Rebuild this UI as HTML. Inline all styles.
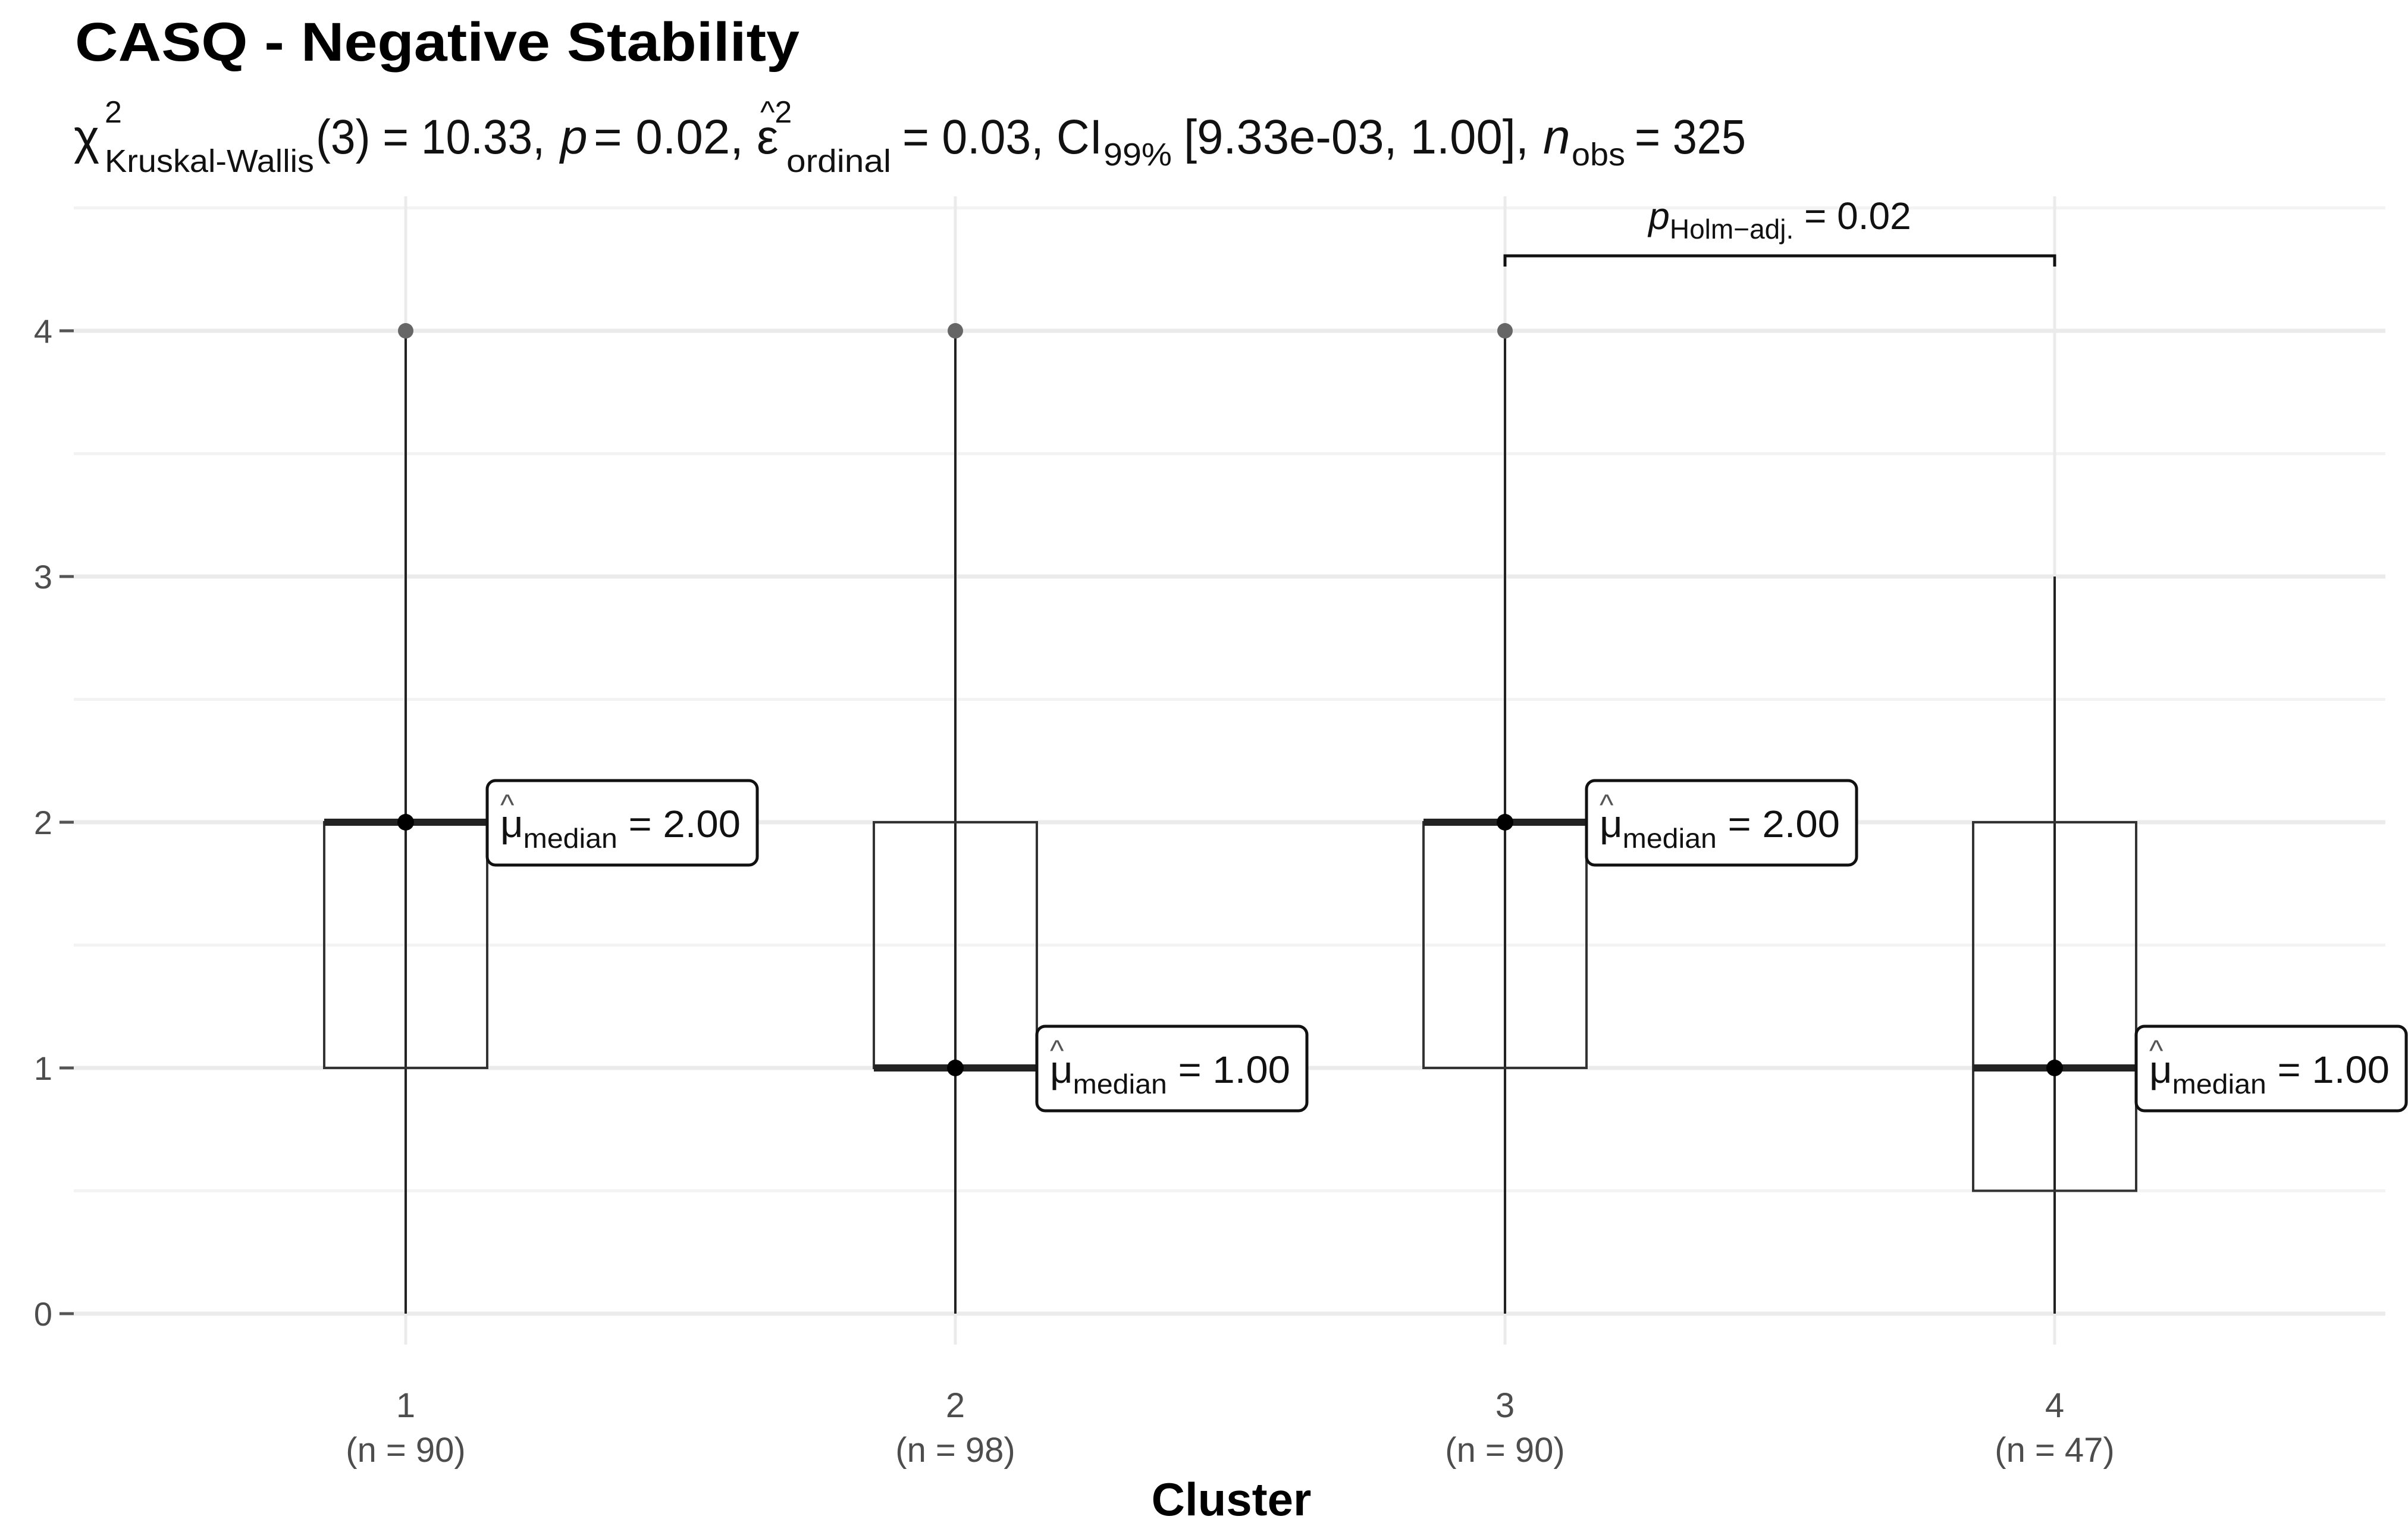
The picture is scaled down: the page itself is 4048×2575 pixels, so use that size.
<!DOCTYPE html>
<html><head><meta charset="utf-8"><style>
html,body{margin:0;padding:0;background:#fff}
svg{display:block;font-family:"Liberation Sans",Arial,sans-serif}
</style></head><body>
<svg id="chart" width="4048" height="2575" viewBox="0 0 4048 2575" xmlns="http://www.w3.org/2000/svg">
<rect width="4048" height="2575" fill="#fff"/>
<text x="126" y="102" font-size="92" font-weight="bold" textLength="1218" lengthAdjust="spacingAndGlyphs">CASQ - Negative Stability</text>
<g fill="#111" font-size="82">
<text x="124" y="258">χ</text>
<text x="176" y="206" font-size="52">2</text>
<text x="176" y="289" font-size="54" textLength="352" lengthAdjust="spacingAndGlyphs">Kruskal-Wallis</text>
<text x="531" y="258" textLength="385" lengthAdjust="spacingAndGlyphs">(3) = 10.33,</text>
<text x="942" y="258" font-style="italic">p</text>
<text x="998" y="258" textLength="252" lengthAdjust="spacingAndGlyphs">= 0.02,</text>
<text x="1272" y="258">ε</text>
<text x="1278" y="206" font-size="52">^2</text>
<text x="1322" y="289" font-size="54" textLength="176" lengthAdjust="spacingAndGlyphs">ordinal</text>
<text x="1517" y="258" textLength="336" lengthAdjust="spacingAndGlyphs">= 0.03, CI</text>
<text x="1855" y="278" font-size="54" textLength="115" lengthAdjust="spacingAndGlyphs">99%</text>
<text x="1990" y="258" textLength="580" lengthAdjust="spacingAndGlyphs">[9.33e-03, 1.00],</text>
<text x="2594" y="258" font-style="italic">n</text>
<text x="2642" y="278" font-size="54" textLength="90" lengthAdjust="spacingAndGlyphs">obs</text>
<text x="2748" y="258" textLength="187" lengthAdjust="spacingAndGlyphs">= 325</text>
</g>
<g id="grid"></g>
<g id="marks"></g>
<g id="axes"></g>
</svg>
<script>
const categories = ["1","2","3","4"];
const counts = [90,98,90,47];
const q1 = [1,1,1,0.5];
const medians = [2,1,2,1];
const q3 = [2,2,2,2];
const whiskerLow = [0,0,0,0];
const whiskerHigh = [4,4,4,3];
const outliers = [[4],[4],[4],[]];
const yTicks = [0,1,2,3,4];
const pairPValue = "0.02";
const pairGroups = [2,3];

const NS="http://www.w3.org/2000/svg";
const plotL=124, plotR=4010, plotT=330, plotB=2260;
const xPos = i => 682 + i*924;
const yPos = v => 2208 - v*413;
const halfW = 137;
function mk(tag, attrs, parent){const e=document.createElementNS(NS,tag);for(const k in attrs)e.setAttribute(k,attrs[k]);parent.appendChild(e);return e;}
const grid=document.getElementById('grid'), marks=document.getElementById('marks'), axes=document.getElementById('axes');

for(let v=-0.5; v<=4.5; v+=0.5){
  const y=yPos(v); if(y>plotB||y<plotT) continue;
  const major = Number.isInteger(v);
  const l=mk('line',{x1:plotL,x2:plotR,y1:y,y2:y,stroke:major?'#ebebeb':'#f3f3f3','stroke-width':major?7:5},grid);
  
  
}
categories.forEach((c,i)=>{
  const l=mk('line',{x1:xPos(i),x2:xPos(i),y1:plotT,y2:plotB,stroke:'#ebebeb','stroke-width':5},grid);
  
  
});

yTicks.forEach(v=>{
  const y=yPos(v);
  const t=mk('line',{x1:100,x2:124,y1:y,y2:y,stroke:'#555','stroke-width':5},axes);
  
  
  const tx=mk('text',{x:88,y:y+20,'font-size':56,fill:'#4d4d4d','text-anchor':'end'},axes);
  tx.textContent=String(v);
  
  
});

categories.forEach((c,i)=>{
  const x=xPos(i);
  const g=mk('g',{},marks);
  
  
  const w=mk('line',{x1:x,x2:x,y1:yPos(whiskerLow[i]),y2:yPos(whiskerHigh[i]),stroke:'#222','stroke-width':4},g);
  
  
  const b=mk('rect',{x:x-halfW,y:yPos(q3[i]),width:2*halfW,height:yPos(q1[i])-yPos(q3[i]),fill:'none',stroke:'#333','stroke-width':4},g);
  
  
  const m=mk('line',{x1:x-halfW,x2:x+halfW,y1:yPos(medians[i]),y2:yPos(medians[i]),stroke:'#222','stroke-width':12},g);
  
  
  const d=mk('circle',{cx:x,cy:yPos(medians[i]),r:14,fill:'#000'},g);
  
  
  outliers[i].forEach(o=>{
    const p=mk('circle',{cx:x,cy:yPos(o),r:13,fill:'#666'},g);
    
    
  });
  const ly=yPos(medians[i]);
  const lb=mk('rect',{x:x+halfW,y:ly-70,width:454,height:142,rx:14,fill:'#fff',stroke:'#111','stroke-width':5},g);
  
  
  const lt=mk('text',{x:x+halfW+22,y:ly+25,'font-size':64,fill:'#111',textLength:404,lengthAdjust:'spacingAndGlyphs'},g);
  
  
  lt.innerHTML='<tspan>μ</tspan><tspan font-size="46" dy="18">median</tspan><tspan dy="-18"> = '+medians[i].toFixed(2)+'</tspan>';
  const hat=mk('text',{x:x+halfW+22,y:ly-12,'font-size':50,fill:'#555'},g);
  hat.textContent='^';
  
  
  const t1=mk('text',{x:x,y:2382,'font-size':58,fill:'#4d4d4d','text-anchor':'middle'},axes);
  t1.textContent=c;
  
  
  const t2=mk('text',{x:x,y:2457,'font-size':58,fill:'#4d4d4d','text-anchor':'middle'},axes);
  t2.textContent='(n = '+counts[i]+')';
  
  
});

const bx1=xPos(pairGroups[0]), bx2=xPos(pairGroups[1]);
const br=mk('path',{d:`M${bx1} 448 V430 H${bx2} V448`,fill:'none',stroke:'#111','stroke-width':5},marks);


const bt=mk('text',{x:(bx1+bx2)/2,y:385,'font-size':64,'text-anchor':'middle',fill:'#111'},marks);


bt.innerHTML='<tspan font-style="italic">p</tspan><tspan font-size="46" dy="16">Holm−adj.</tspan><tspan dy="-16"> = '+pairPValue+'</tspan>';

const xt=mk('text',{x:2070,y:2547,'font-size':78,'font-weight':'bold','text-anchor':'middle'},axes);
xt.textContent='Cluster';


</script>
</body></html>
